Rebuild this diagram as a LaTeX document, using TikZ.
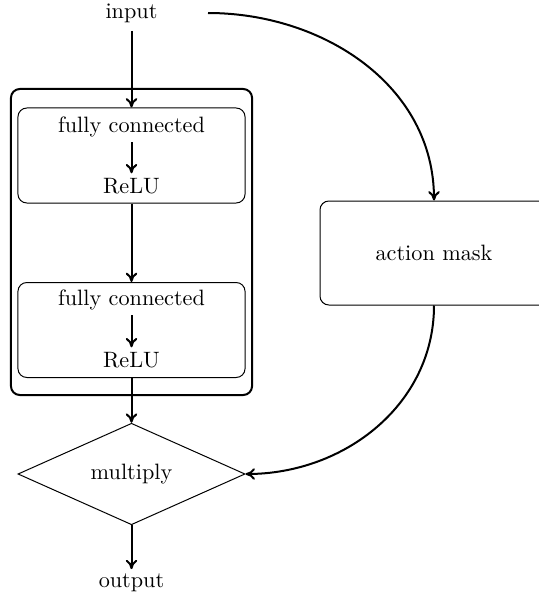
\documentclass[tikz,border=0pt]{standalone}
\usetikzlibrary{shapes.geometric,arrows.meta}
\begin{document}
\begin{tikzpicture}[x=0.45pt,y=-0.45pt,
  arr/.style={-{Computer Modern Rightarrow[length=4.2pt,width=5.2pt]},line width=0.9pt},
  outerbox/.style={draw,line width=0.9pt,rounded corners=4pt,minimum width=108.5pt,minimum height=137.7pt,inner sep=0pt},
  innerbox/.style={draw,line width=0.45pt,rounded corners=4pt,minimum width=102.2pt,minimum height=42.75pt,inner sep=0pt},
  lbl/.style={inner sep=2pt},
  mult/.style={draw,diamond,line width=0.45pt,minimum width=102.2pt,minimum height=45pt,inner sep=0pt},
  maskbox/.style={draw,line width=0.45pt,rounded corners=4pt,minimum width=102.6pt,minimum height=46.8pt,inner sep=0pt}]
\useasboundingbox (0,0) rectangle (539,599);
\node[outerbox] (outer) at (131.5,242) {};
\node[innerbox] (box1) at (131.5,155.5) {};
\node[innerbox] (box2) at (131.5,330) {};
\node[lbl] (input) at (131.5,13) {input};
\node[lbl] (fc1) at (131.5,127) {fully connected};
\node[lbl] (relu1) at (131.5,186) {ReLU};
\node[lbl] (fc2) at (131.5,300) {fully connected};
\node[lbl] (relu2) at (131.5,360) {ReLU};
\node[mult] (mul) at (131.5,474) {multiply};
\node[lbl] (output) at (131.5,583) {output};
\node[maskbox] (mask) at (434,253) {action mask};
\coordinate (tap) at (208,13);
\draw[arr] (131.5,31) -- (box1.north);
\draw[arr] (fc1) -- (relu1);
\draw[arr] (box1.south) -- (box2.north);
\draw[arr] (fc2) -- (relu2);
\draw[arr] (box2.south) -- (mul.north);
\draw[arr] (mul.south) -- (output);
\draw[arr] (tap) to[out=0,in=90] (mask.north);
\draw[arr] (mask.south) to[out=-90,in=0] (mul.east);
\end{tikzpicture}
\end{document}
